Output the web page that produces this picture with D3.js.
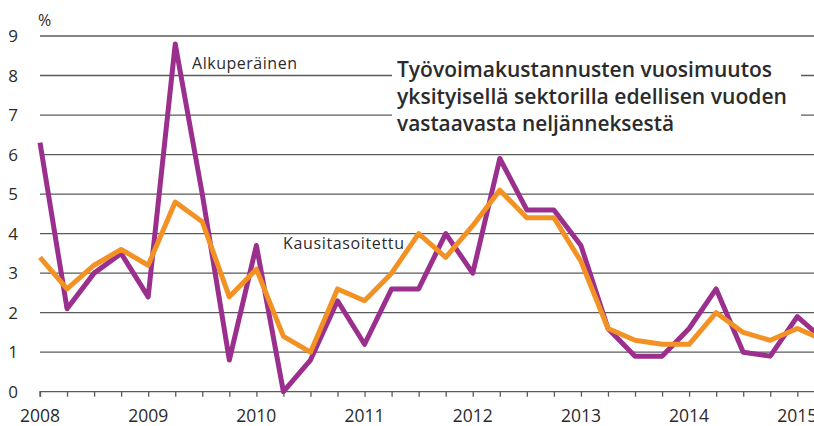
<!DOCTYPE html>
<html>
<head>
<meta charset="utf-8">
<script src="https://cdn.jsdelivr.net/npm/d3@7"></script>
<style>
  html, body { margin: 0; padding: 0; background: #fff; }
  text { font-family: "Open Sans", "Noto Sans", sans-serif; fill: #2b2b2b; }
</style>
</head>
<body>
<div id="chart"></div>
<script>
// neljännekset 2008Q1 ... 2015Q2 (vuosiluku + neljännes)
const quarters = [
  2008.00, 2008.25, 2008.50, 2008.75,
  2009.00, 2009.25, 2009.50, 2009.75,
  2010.00, 2010.25, 2010.50, 2010.75,
  2011.00, 2011.25, 2011.50, 2011.75,
  2012.00, 2012.25, 2012.50, 2012.75,
  2013.00, 2013.25, 2013.50, 2013.75,
  2014.00, 2014.25, 2014.50, 2014.75,
  2015.00, 2015.25
];
// alkuperäinen sarja, %
const alkuperainen = [
  6.3, 2.1, 3.0, 3.5, 2.4, 8.8, 5.0, 0.8,
  3.7, 0.0, 0.8, 2.3, 1.2, 2.6, 2.6, 4.0,
  3.0, 5.9, 4.6, 4.6, 3.7, 1.6, 0.9, 0.9,
  1.6, 2.6, 1.0, 0.9, 1.9, 1.3
];
// kausitasoitettu sarja, %
const kausitasoitettu = [
  3.4, 2.6, 3.2, 3.6, 3.2, 4.8, 4.3, 2.4,
  3.1, 1.4, 1.0, 2.6, 2.3, 3.0, 4.0, 3.4,
  4.2, 5.1, 4.4, 4.4, 3.3, 1.6, 1.3, 1.2,
  1.2, 2.0, 1.5, 1.3, 1.6, 1.3
];
const yTicks = [0, 1, 2, 3, 4, 5, 6, 7, 8, 9];
const yearLabels = [2008, 2009, 2010, 2011, 2012, 2013, 2014, 2015];
const titleLines = [
  "Työvoimakustannusten vuosimuutos",
  "yksityisellä sektorilla edellisen vuoden",
  "vastaavasta neljänneksestä"
];

const width = 814, height = 426;
const left = 40, right = 814;

const svg = d3.select("#chart").append("svg")
  .attr("width", width)
  .attr("height", height);

const x = d3.scaleLinear().domain([2008, 2015]).range([left, 797.3]);
const y = d3.scaleLinear().domain([0, 9]).range([391.7, 36]);

// vaakaviivat
svg.append("g")
  .selectAll("line")
  .data(yTicks.filter(d => d > 0))
  .join("line")
  .attr("x1", left)
  .attr("x2", right)
  .attr("y1", d => y(d))
  .attr("y2", d => y(d))
  .attr("stroke", "#5a5a5a")
  .attr("stroke-width", 1.3);

// y-akselin luvut
svg.append("g")
  .selectAll("text")
  .data(yTicks)
  .join("text")
  .attr("x", 13)
  .attr("y", d => y(d))
  .attr("dy", "0.36em")
  .attr("text-anchor", "middle")
  .attr("font-size", "17px")
  .text(d => d);

svg.append("text")
  .attr("x", 38)
  .attr("y", 26)
  .attr("font-size", "16px")
  .text("%");

// x-akseli
const xAxis = svg.append("g")
  .attr("transform", `translate(0,${y(0)})`)
  .call(d3.axisBottom(x)
    .tickValues(quarters.filter(q => x(q) <= right))
    .tickSize(5)
    .tickFormat(""));
xAxis.select(".domain")
  .attr("d", `M${left},5V0H${right}`)
  .attr("stroke", "#5a5a5a")
  .attr("stroke-width", 1.3);
xAxis.selectAll(".tick line")
  .attr("stroke", "#5a5a5a")
  .attr("stroke-width", 1.3);

svg.append("g")
  .selectAll("text")
  .data(yearLabels)
  .join("text")
  .attr("x", d => x(d))
  .attr("y", 422)
  .attr("text-anchor", "middle")
  .attr("font-size", "17.5px")
  .text(d => d);

// otsikko valkoisella taustalla
svg.append("rect")
  .attr("x", 392)
  .attr("y", 44)
  .attr("width", 409)
  .attr("height", 100)
  .attr("fill", "#fff");

const titleWidths = [375, 390, 277];
svg.append("g")
  .selectAll("text")
  .data(titleLines)
  .join("text")
  .attr("x", 397)
  .attr("y", (d, i) => 77 + i * 27)
  .attr("font-size", "22px")
  .attr("font-weight", 600)
  .attr("textLength", (d, i) => titleWidths[i])
  .attr("lengthAdjust", "spacingAndGlyphs")
  .text(d => d);

// viivat
svg.append("clipPath").attr("id", "plotClip")
  .append("rect")
  .attr("x", 0).attr("y", 0)
  .attr("width", right).attr("height", height);

const line = d3.line()
  .x(d => x(d[0]))
  .y(d => y(d[1]));

const plot = svg.append("g").attr("clip-path", "url(#plotClip)");

plot.append("path")
  .datum(d3.zip(quarters, alkuperainen))
  .attr("d", line)
  .attr("fill", "none")
  .attr("stroke", "#9b2f8d")
  .attr("stroke-width", 5)
  .attr("stroke-linejoin", "round");

plot.append("path")
  .datum(d3.zip(quarters, kausitasoitettu))
  .attr("d", line)
  .attr("fill", "none")
  .attr("stroke", "#f39224")
  .attr("stroke-width", 5)
  .attr("stroke-linejoin", "round");

// sarjojen nimet
svg.append("text")
  .attr("x", 192)
  .attr("y", 69)
  .attr("font-size", "16px")
  .attr("textLength", 105)
  .text("Alkuperäinen");

svg.append("text")
  .attr("x", 283)
  .attr("y", 249)
  .attr("font-size", "16px")
  .attr("textLength", 121)
  .text("Kausitasoitettu");
</script>
</body>
</html>
